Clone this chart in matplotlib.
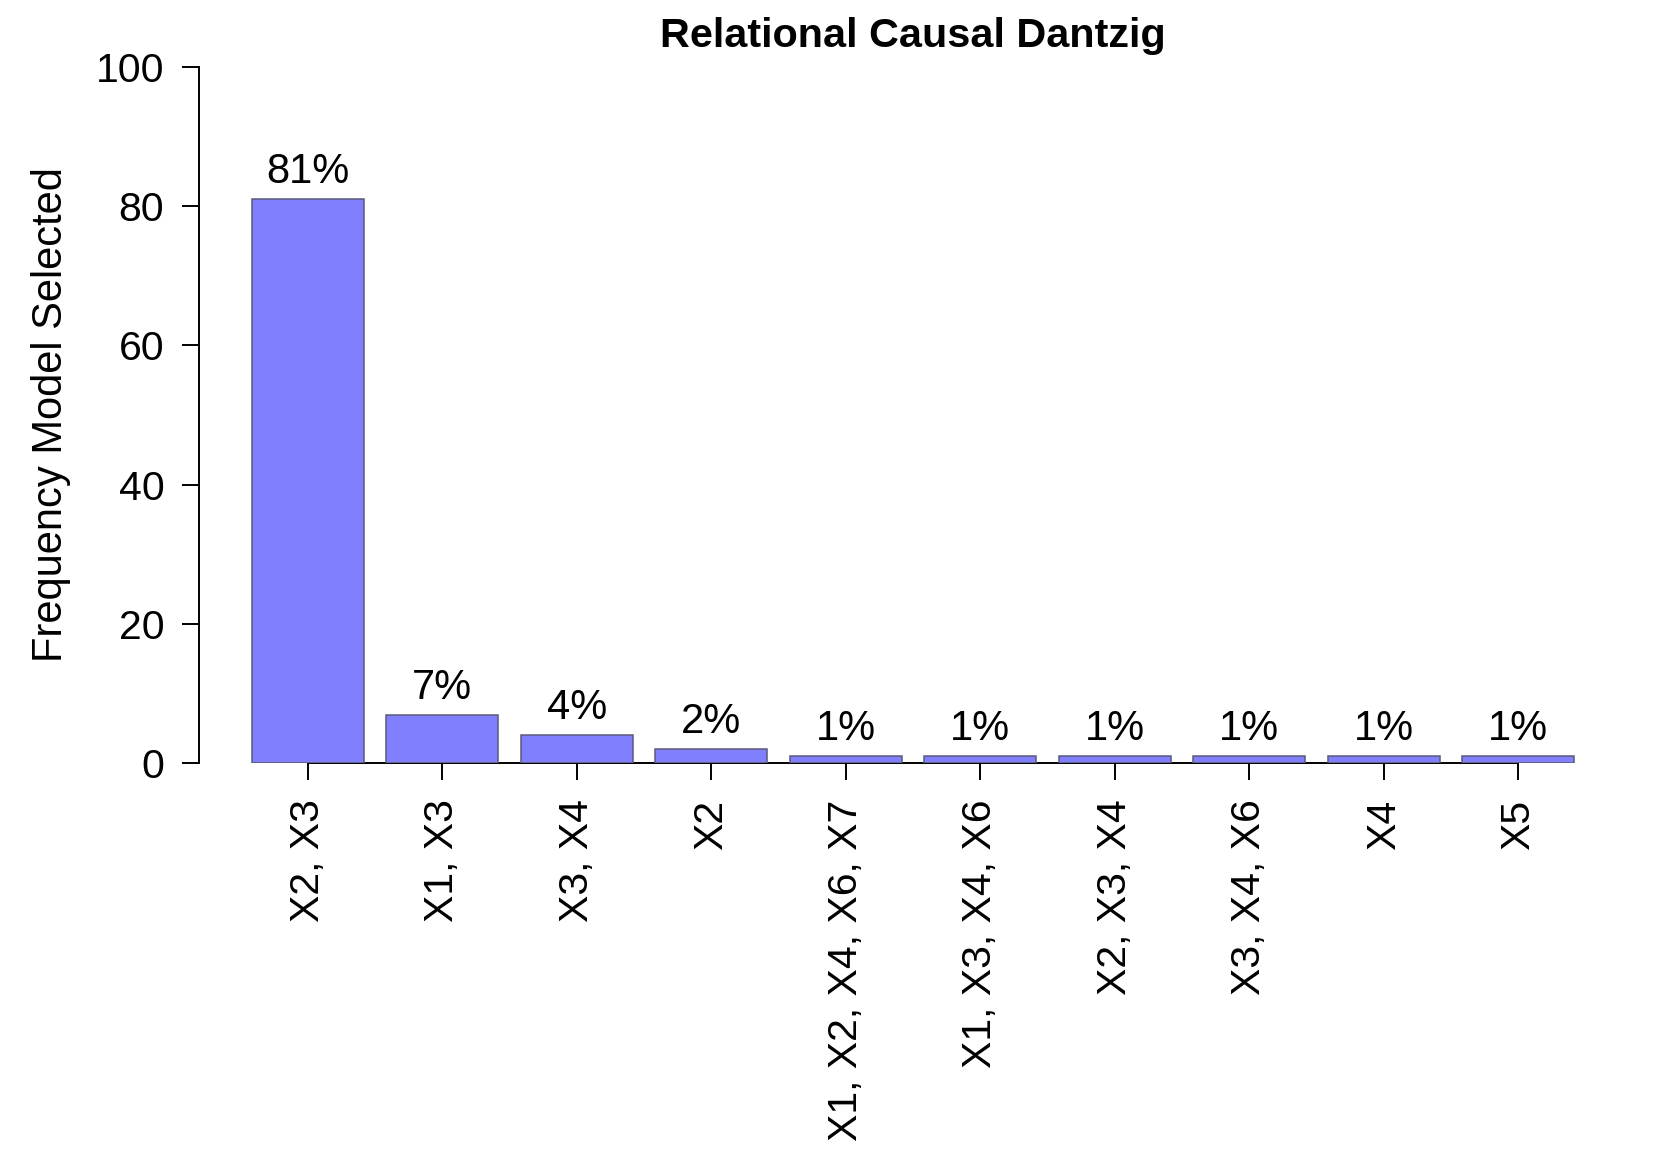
import matplotlib
matplotlib.use("Agg")
import matplotlib.pyplot as plt

# model selection frequencies (percent)
models = ["X2, X3", "X1, X3", "X3, X4", "X2", "X1, X2, X4, X6, X7",
          "X1, X3, X4, X6", "X2, X3, X4", "X3, X4, X6", "X4", "X5"]
freq = [81, 7, 4, 2, 1, 1, 1, 1, 1, 1]
yticks = [0, 20, 40, 60, 80, 100]

plt.rcParams["font.family"] = ["Liberation Sans", "DejaVu Sans"]

W, H = 1661, 1163
fig = plt.figure(figsize=(W / 100, H / 100), dpi=100)

# plot region in pixels (R-like barplot layout)
left, right = 199, 1627
top, bottom = 38.7, 763.3
ax = fig.add_axes([left / W, 1 - bottom / H, (right - left) / W, (bottom - top) / H])

# R barplot: width 1, space 0.2
xs = [0.7 + 1.2 * i for i in range(len(freq))]
ax.bar(xs, freq, width=1.0, color="#8080FF", edgecolor="#5a5a7a",
       linewidth=1.1, zorder=3)

for x, v in zip(xs, freq):
    ax.annotate(f"{v}%", (x, v), xytext=(0, 11.5), textcoords="offset points",
                ha="center", va="baseline", fontsize=30)

ax.set_xlim(-0.272, 12.472)
ax.set_ylim(0, 104)

for s in ["top", "right"]:
    ax.spines[s].set_visible(False)
ax.spines["left"].set_bounds(0, 100)
ax.spines["bottom"].set_bounds(xs[0], xs[-1])
for s in ["left", "bottom"]:
    ax.spines[s].set_linewidth(1.4)

ax.set_yticks(yticks)
ax.set_yticklabels([str(t) for t in yticks])
ax.set_xticks(xs)
ax.set_xticklabels(models, rotation=90, ha="center", va="top")
ax.tick_params(axis="both", length=12, width=1.4, labelsize=29.5)
ax.tick_params(axis="y", pad=13)
ax.tick_params(axis="x", pad=14)

fig.text((left + right) / 2 / W, 1 - 46.6 / H, "Relational Causal Dantzig",
         ha="center", va="baseline", fontsize=29.8, fontweight="bold")
fig.text(51 / W, 1 - 415 / H, "Frequency Model Selected", rotation=90,
         ha="center", va="center", fontsize=30)

fig.savefig("out.png", dpi=100)
